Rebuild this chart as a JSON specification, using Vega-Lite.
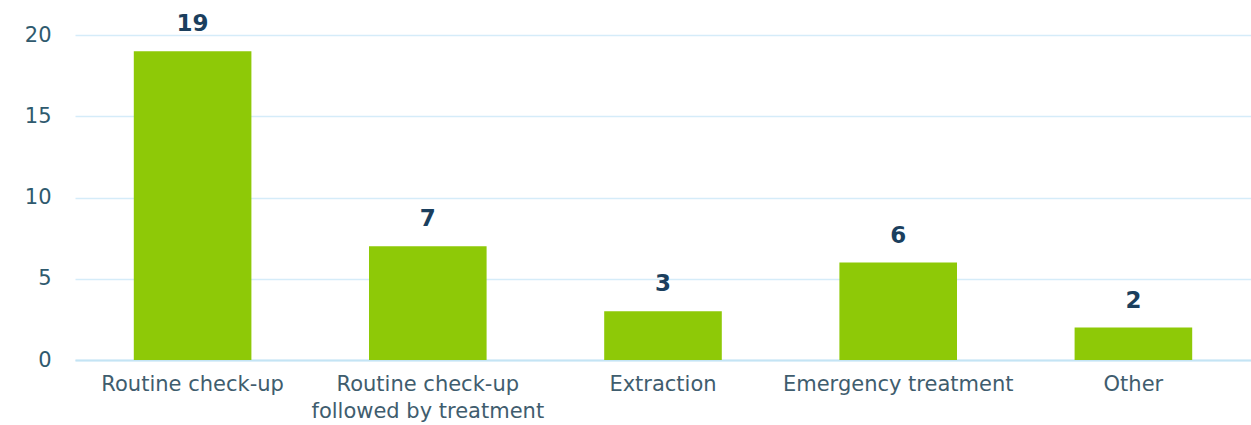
{
  "$schema": "https://vega.github.io/schema/vega-lite/v6.json",
  "autosize": {"type": "none"},
  "padding": {"left": 75, "top": 35, "right": 0, "bottom": 65},
  "width": 1176,
  "height": 325,
  "background": "white",
  "config": {"view": {"stroke": null}, "font": "DejaVu Sans"},
  "data": {"values": [
    {"category": "Routine check-up", "count": 19},
    {"category": "Routine check-up followed by treatment", "count": 7},
    {"category": "Extraction", "count": 3},
    {"category": "Emergency treatment", "count": 6},
    {"category": "Other", "count": 2}
  ]},
  "encoding": {
    "x": {"field": "category", "type": "nominal", "sort": null,
      "scale": {"paddingInner": 0.5, "paddingOuter": 0.25},
      "axis": {"title": null, "labelAngle": 0, "ticks": false, "domain": true, "domainColor": "#c4e4f4", "domainWidth": 2,
        "labelFontSize": 21, "labelColor": "#3f5d6e", "labelPadding": 13, "labelBaseline": "top", "labelLineHeight": 27,
        "labelExpr": "datum.label == 'Routine check-up followed by treatment' ? ['Routine check-up', 'followed by treatment'] : datum.label",
        "labelLimit": 300}},
    "y": {"field": "count", "type": "quantitative", "scale": {"domain": [0, 20]},
      "axis": {"title": null, "values": [0, 5, 10, 15, 20], "ticks": false, "domain": false,
        "gridColor": "#d5ecf9", "gridWidth": 1.5, "labelFontSize": 21, "labelColor": "#2f5a6e", "labelPadding": 24}}
  },
  "layer": [
    {"mark": {"type": "bar", "color": "#8ec907"}},
    {"mark": {"type": "text", "dy": -15, "fontSize": 23, "fontWeight": "bold", "color": "#1b3f5e", "baseline": "bottom"},
      "encoding": {"text": {"field": "count", "type": "quantitative"}}}
  ]
}
